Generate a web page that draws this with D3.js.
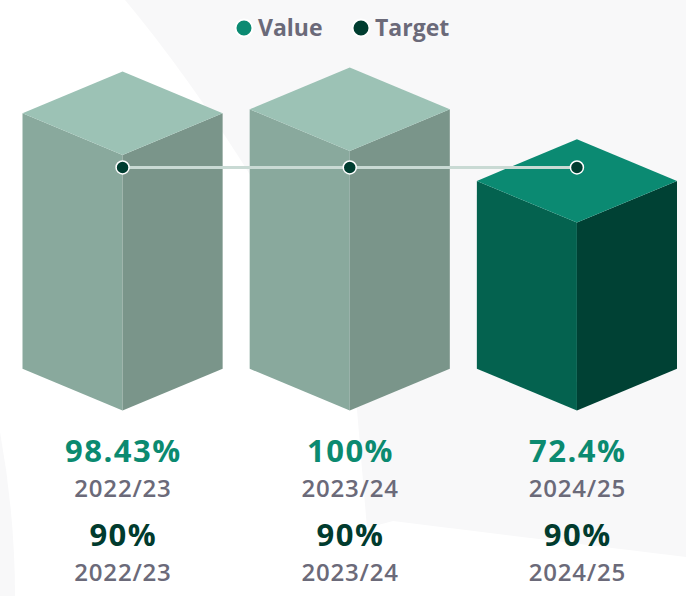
<!DOCTYPE html>
<html>
<head>
<meta charset="utf-8">
<script src="https://cdn.jsdelivr.net/npm/d3@7"></script>
<style>
  html, body { margin: 0; padding: 0; background: #ffffff; }
  svg { display: block; font-family: "Open Sans", "Noto Sans", sans-serif; }
</style>
</head>
<body>
<div id="chart"></div>
<script>
// data
var periods = ["2022/23", "2023/24", "2024/25"];
var values = [98.43, 100, 72.4];
var targets = [90, 90, 90];
var valueLabels = ["98.43%", "100%", "72.4%"];
var targetLabels = ["90%", "90%", "90%"];
var highlight = "2024/25";

var width = 686, height = 596;

var svg = d3.select("#chart")
    .append("svg")
    .attr("width", width)
    .attr("height", height);

// faint background shapes
svg.append("path")
    .attr("d", "M125,0 C205,95 335,290 357,410 L367,528 L393,521 L686,557 L686,0 Z")
    .style("fill", "#f8f8f9");
svg.append("path")
    .attr("d", "M0,432 Q15,515 15,596 L0,596 Z")
    .style("fill", "#f8f8f9");

var x = d3.scaleBand()
    .domain(periods)
    .range([22.5, 677])
    .paddingInner(0.119);

// y of the front edge top of a box
var y = d3.scaleLinear()
    .domain([0, 100])
    .range([410.5, 151]);

var half = x.bandwidth() / 2,
    depth = half * 0.417,
    targetLift = 9.5;

var palette = {
    normal: { top: "#9cc2b5", left: "#89a99d", right: "#7a958a" },
    current: { top: "#0b8a72", left: "#04624f", right: "#004134" }
};

var boxes = periods.map(function (p, i) {
    return { period: p, value: values[i], target: targets[i],
             cx: x(p) + half, col: p === highlight ? palette.current : palette.normal };
});

var pts = function (arr) { return arr.map(function (a) { return a.join(","); }).join(" "); };

var g = svg.append("g").attr("class", "boxes")
    .selectAll("g")
    .data(boxes)
    .enter()
    .append("g");

g.append("polygon")
    .attr("points", function (d) {
        var fy = y(d.value), by = y(0);
        return pts([[d.cx - half, fy - depth], [d.cx, fy], [d.cx, by], [d.cx - half, by - depth]]);
    })
    .style("fill", function (d) { return d.col.left; });

g.append("polygon")
    .attr("points", function (d) {
        var fy = y(d.value), by = y(0);
        return pts([[d.cx + half, fy - depth], [d.cx, fy], [d.cx, by], [d.cx + half, by - depth]]);
    })
    .style("fill", function (d) { return d.col.right; });

g.append("polygon")
    .attr("points", function (d) {
        var fy = y(d.value);
        return pts([[d.cx, fy - 2 * depth], [d.cx + half, fy - depth], [d.cx, fy], [d.cx - half, fy - depth]]);
    })
    .style("fill", function (d) { return d.col.top; });

// target line and dots
var line = d3.line()
    .x(function (d) { return d.cx; })
    .y(function (d) { return y(d.target) - targetLift; });

svg.append("path")
    .datum(boxes)
    .attr("d", line)
    .style("fill", "none")
    .style("stroke", "#c9dad4")
    .style("stroke-width", 3);

svg.append("g")
    .selectAll("circle")
    .data(boxes)
    .enter()
    .append("circle")
    .attr("cx", function (d) { return d.cx; })
    .attr("cy", function (d) { return y(d.target) - targetLift; })
    .attr("r", 6.5)
    .style("fill", "#003d30")
    .style("stroke", "#ffffff")
    .style("stroke-width", 1.5);

// labels under the boxes
var labels = svg.append("g")
    .selectAll("g")
    .data(boxes)
    .enter()
    .append("g")
    .attr("text-anchor", "middle");

var addText = function (sel, yy, size, weight, color, spacing, fn) {
    sel.append("text")
        .attr("x", function (d) { return d.cx + spacing / 2; })
        .attr("y", yy)
        .style("font-size", size + "px")
        .style("font-weight", weight)
        .style("letter-spacing", spacing + "px")
        .style("fill", color)
        .text(fn);
};

addText(labels, 462, 31, 700, "#0b8a70", 1.5, function (d, i) { return valueLabels[i]; });
addText(labels, 497, 24, 600, "#6b6a79", 0.8, function (d) { return d.period; });
addText(labels, 546, 31, 700, "#013b2e", 1.5, function (d, i) { return targetLabels[i]; });
addText(labels, 581, 24, 600, "#6b6a79", 0.8, function (d) { return d.period; });

// legend
var legendItems = [
    { name: "Value", color: "#0b8a72", x: 244 },
    { name: "Target", color: "#003d30", x: 361 }
];

var legend = svg.append("g")
    .selectAll("g")
    .data(legendItems)
    .enter()
    .append("g")
    .attr("transform", function (d) { return "translate(" + d.x + ",28)"; });

legend.append("circle")
    .attr("r", 8.5)
    .style("fill", function (d) { return d.color; })
    .style("stroke", "#ffffff")
    .style("stroke-width", 2);

legend.append("text")
    .attr("x", 14)
    .attr("y", 8)
    .style("font-size", "23px")
    .style("font-weight", 700)
    .style("fill", "#6b6a79")
    .text(function (d) { return d.name; });
</script>
</body>
</html>
